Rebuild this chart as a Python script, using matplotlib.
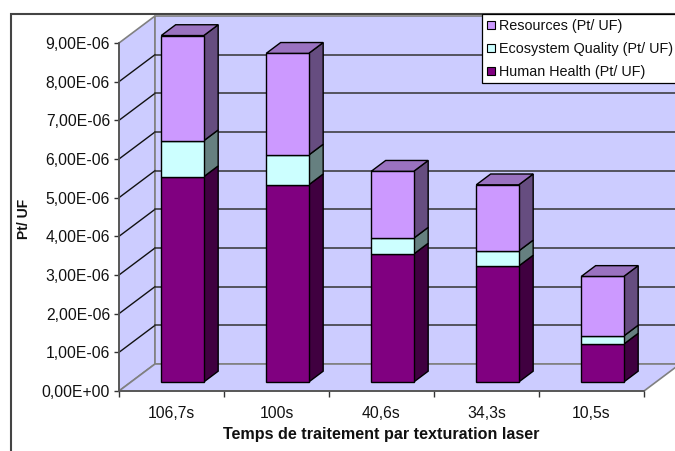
import numpy as np
import matplotlib
matplotlib.use("Agg")
import matplotlib.pyplot as plt
from matplotlib.patches import Polygon, Rectangle, Patch

plt.rcParams['font.family'] = ['Liberation Sans', 'DejaVu Sans']

categories = ["106,7s", "100s", "40,6s", "34,3s", "10,5s"]
human = np.array([5.31, 5.10, 3.31, 3.00, 0.98]) * 1e-6
ecosystem = np.array([0.93, 0.77, 0.41, 0.39, 0.21]) * 1e-6
resources = np.array([2.72, 2.63, 1.73, 1.71, 1.54]) * 1e-6
y_ticks = np.arange(0, 10) * 1e-6
y_labels = ["0,00E+00", "1,00E-06", "2,00E-06", "3,00E-06", "4,00E-06",
            "5,00E-06", "6,00E-06", "7,00E-06", "8,00E-06", "9,00E-06"]

W, H = 675, 451
fig = plt.figure(figsize=(W / 100, H / 100), dpi=100)
ax = fig.add_axes([119 / W, (H - 391) / H, 525 / W, 348 / H])
ax.set_xlim(0, 5)
ax.set_ylim(0, 9e-6)
ax.patch.set_alpha(0)

# profondeur de la perspective, en unites des axes
DX = 36 / 105
DY = 27 / 348 * 9e-6
WALL = "#ccccff"


def shift(x, y, d):
    return (x + DX * d, y + DY * d)


def poly(pts, fc, ec="black", lw=1.0, z=2):
    ax.add_patch(Polygon(pts, closed=True, facecolor=fc, edgecolor=ec, linewidth=lw,
                         zorder=z, clip_on=False, joinstyle="miter"))


# parois
poly([(0, 0), shift(0, 0, 1), shift(0, 9e-6, 1), (0, 9e-6)], WALL, "#808080", 1.2, 1)
poly([shift(0, 0, 1), shift(5, 0, 1), shift(5, 9e-6, 1), shift(0, 9e-6, 1)], WALL, "#808080", 1.2, 1)
poly([(0, 0), (5, 0), shift(5, 0, 1), shift(0, 0, 1)], WALL, "#808080", 1.2, 1)

# grille
for v in y_ticks[1:-1]:
    ax.plot([0, DX], [v, v + DY], color="#111111", lw=1.0, zorder=1.5, clip_on=False)
    ax.plot([DX, 5 + DX], [v + DY, v + DY], color="#333333", lw=1.1, zorder=1.5, clip_on=False)

# barres empilees
width = 42.5 / 105
front = 1 / 3
depth = 0.4
series = [(human, "#800080", "#400040"),
          (ecosystem, "#ccffff", "#668080"),
          (resources, "#cc99ff", "#664d80")]
for i in range(len(categories)):
    x0 = i + 0.5 - width / 2 + 0.105
    x1 = x0 + width
    bottom = 0.0
    z = 3 + i
    for vals, face, side in series:
        b = bottom + DY * front
        t = b + vals[i]
        poly([(x1, b), shift(x1, b, depth), shift(x1, t, depth), (x1, t)], side, z=z)
        poly([(x0, b), (x1, b), (x1, t), (x0, t)], face, z=z)
        bottom += vals[i]
    poly([(x0, t), (x1, t), shift(x1, t, depth), shift(x0, t, depth)], "#9a72c0", z=z)

# axes
for s in ["top", "right"]:
    ax.spines[s].set_visible(False)
for s in ["left", "bottom"]:
    ax.spines[s].set_color("#555555")
    ax.spines[s].set_linewidth(1.3)
    ax.spines[s].set_zorder(2.5)
ax.set_yticks(y_ticks)
ax.set_yticklabels(y_labels, fontsize=11.3, color="#111111")
ax.set_xticks(np.arange(0, 6))
ax.set_xticklabels([])
ax.set_xticks(np.arange(len(categories)) + 0.5, minor=True)
ax.set_xticklabels(categories, minor=True, fontsize=11.3, color="#111111")
ax.tick_params(axis="x", which="minor", length=0, pad=11)
ax.tick_params(axis="x", which="major", length=4, width=1, color="#333333")
ax.tick_params(axis="y", length=3.6, width=1, color="#333333", pad=2.8)

fig.text(381 / W, 1 - 434.5 / H, "Temps de traitement par texturation laser", fontsize=11.6,
         fontweight="bold", ha="center", va="center", color="#111111")
fig.text(24 / W, 1 - 219 / H, "Pt/ UF", fontsize=10, fontweight="bold", rotation=90,
         ha="center", va="center", color="#111111")

# cadre exterieur
fig.add_artist(Rectangle((11 / W, -0.05), 1, 1.05 - 13.5 / H, transform=fig.transFigure,
                         facecolor="none", edgecolor="#444444", linewidth=1.5, zorder=0))

# legende
fig.add_artist(Rectangle((481.5 / W, 1 - 82.5 / H), 200 / W, 69 / H, transform=fig.transFigure,
                         facecolor="white", edgecolor="black", linewidth=0.9, zorder=10))
handles = [Patch(facecolor="#cc99ff", edgecolor="black", linewidth=0.8, label="Resources (Pt/ UF)"),
           Patch(facecolor="#ccffff", edgecolor="black", linewidth=0.8, label="Ecosystem Quality (Pt/ UF)"),
           Patch(facecolor="#800080", edgecolor="black", linewidth=0.8, label="Human Health (Pt/ UF)")]
leg = fig.legend(handles=handles, loc="upper left", bbox_to_anchor=(482 / W, 1 - 14 / H),
                 frameon=False, fontsize=10.4, handlelength=0.55, handleheight=0.55,
                 handletextpad=0.3, labelspacing=0.62, borderaxespad=0, borderpad=0.36,
                 labelcolor="#111111")
leg.set_zorder(11)

fig.savefig("out.png", dpi=100)
